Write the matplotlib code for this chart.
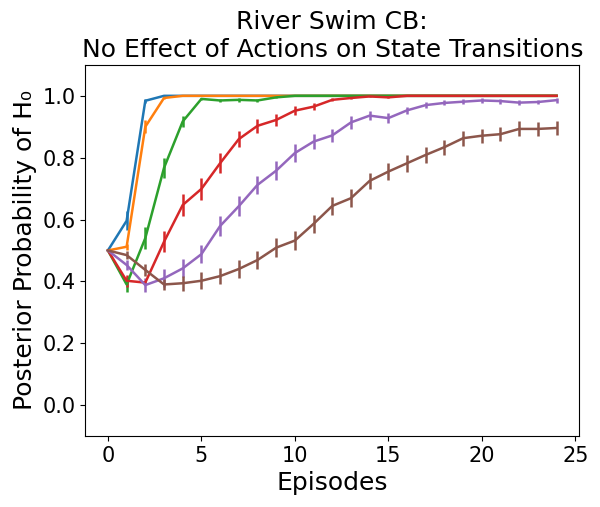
import matplotlib
matplotlib.use("Agg")
import matplotlib.pyplot as plt
import numpy as np

episodes = list(range(25))

blue = [0.5, 0.596, 0.984, 1.0] + [1.0] * 21
blue_err = [0, 0.03, 0.006, 0.002] + [0] * 21

orange = [0.5, 0.512, 0.90, 0.993] + [1.0] * 21
orange_err = [0, 0.01, 0.021, 0.003] + [0] * 21

green = [0.5, 0.39, 0.54, 0.767, 0.917, 0.99, 0.985, 0.987, 0.985, 0.995] + [1.0] * 15
green_err = [0, 0.024, 0.036, 0.032, 0.019, 0.004, 0.006, 0.006, 0.006, 0.002] + [0] * 15

red = [0.5, 0.402, 0.396, 0.528, 0.647, 0.699, 0.782, 0.86, 0.903, 0.922,
       0.952, 0.965, 0.987, 0.993, 0.998, 0.995] + [1.0] * 9
red_err = [0, 0.02, 0.005, 0.034, 0.035, 0.035, 0.032, 0.027, 0.023, 0.019,
           0.015, 0.012, 0.005, 0.003, 0.002, 0.002] + [0] * 9

purple = [0.5, 0.453, 0.388, 0.41, 0.442, 0.488, 0.579, 0.643, 0.712, 0.758,
          0.815, 0.852, 0.872, 0.914, 0.936, 0.928, 0.953, 0.97, 0.977, 0.981,
          0.985, 0.983, 0.978, 0.98, 0.986]
purple_err = [0, 0.016, 0.022, 0.029, 0.029, 0.03, 0.032, 0.033, 0.03, 0.03,
              0.03, 0.025, 0.022, 0.02, 0.015, 0.016, 0.011, 0.009, 0.008, 0.008,
              0.008, 0.008, 0.008, 0.008, 0.008]

brown = [0.5, 0.485, 0.437, 0.39, 0.394, 0.402, 0.417, 0.44, 0.469, 0.509,
         0.532, 0.586, 0.644, 0.669, 0.725, 0.755, 0.782, 0.809, 0.834, 0.863,
         0.871, 0.876, 0.893, 0.893, 0.896]
brown_err = [0, 0.013, 0.019, 0.018, 0.025, 0.028, 0.027, 0.03, 0.03, 0.03,
             0.03, 0.03, 0.03, 0.03, 0.027, 0.027, 0.027, 0.027, 0.024, 0.024,
             0.023, 0.023, 0.024, 0.023, 0.023]

series = [(blue, blue_err), (orange, orange_err), (green, green_err),
          (red, red_err), (purple, purple_err), (brown, brown_err)]

fig = plt.figure(figsize=(6.0, 5.07), dpi=100)
ax = fig.add_axes([0.1425, 0.14, 0.8225, 0.732])
for vals, errs in series:
    ax.errorbar(episodes, vals, yerr=errs, linewidth=1.8, elinewidth=1.8)

ax.set_ylim(-0.1, 1.1)
ax.set_xticks([0, 5, 10, 15, 20, 25])
ax.set_yticks([0.0, 0.2, 0.4, 0.6, 0.8, 1.0])
ax.tick_params(labelsize=15)
ax.set_xlabel("Episodes", fontsize=18)
ax.set_ylabel("Posterior Probability of H\u2080", fontsize=18)
ax.set_title("River Swim CB:\nNo Effect of Actions on State Transitions", fontsize=18)

fig.savefig("out.png", dpi=100)
